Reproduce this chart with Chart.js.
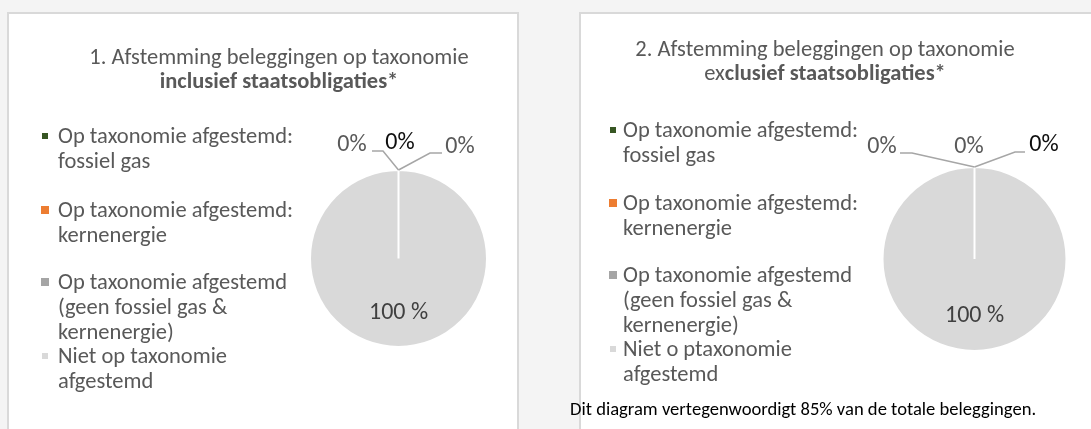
<!DOCTYPE html>
<html>
<head>
<meta charset="utf-8">
<script src="https://cdn.jsdelivr.net/npm/chart.js@4.4.1/dist/chart.umd.min.js"></script>
<style>
  html, body { margin: 0; padding: 0; width: 1091px; height: 429px; overflow: hidden; background: #f4f4f4; }
  body { position: relative; }
  .panel { position: absolute; top: 12px; height: 440px; background: #fff; border: 2px solid #d9d9d9; box-sizing: border-box; }
  #p1 { left: 7px; width: 512px; }
  #p2 { left: 579px; width: 530px; }
  canvas { position: absolute; left: 0; top: 0; }
</style>
</head>
<body>
<div class="panel" id="p1"></div>
<div class="panel" id="p2"></div>
<canvas id="chart1"></canvas>
<canvas id="chart2"></canvas>
<script>
const W = 1091, H = 429;
const FONT = 'Calibri, Carlito, Lato, sans-serif';

// data
const categories1 = [
    'Op taxonomie afgestemd: fossiel gas',
    'Op taxonomie afgestemd: kernenergie',
    'Op taxonomie afgestemd (geen fossiel gas & kernenergie)',
    'Niet op taxonomie afgestemd'
];
const categories2 = [
    'Op taxonomie afgestemd: fossiel gas',
    'Op taxonomie afgestemd: kernenergie',
    'Op taxonomie afgestemd (geen fossiel gas & kernenergie)',
    'Niet o ptaxonomie afgestemd'
];
const values1 = [0, 0, 0, 100];
const values2 = [0, 0, 0, 100];
const valueLabels1 = ['0%', '0%', '0%', '100 %'];
const valueLabels2 = ['0%', '0%', '0%', '100 %'];
const title1 = [[['1. Afstemming beleggingen op taxonomie', false]], [['inclusief staatsobligaties*', true]]];
const title2 = [[['2. Afstemming beleggingen op taxonomie', false]], [['ex', false], ['clusief staatsobligaties*', true]]];
const footnote = 'Dit diagram vertegenwoordigt 85% van de totale beleggingen.';

const colors = ['#375623', '#ed7d31', '#a5a5a5', '#d9d9d9'];

// draws title, legend, labels (chart.js legend can't wrap lines)
const panelText = {
    id: 'panelText',
    afterDraw(chart, args, o) {
        const ctx = chart.ctx;
        ctx.save();
        ctx.textBaseline = 'middle';

        // title
        o.title.forEach((line, li) => {
            let total = 0;
            line.forEach(([t, b]) => {
                ctx.font = (b ? 'bold ' : '') + o.size + 'px ' + FONT;
                total += ctx.measureText(t).width;
            });
            let x = o.titleX - total / 2;
            const y = o.titleY + li * 24;
            ctx.fillStyle = '#595959';
            ctx.textAlign = 'left';
            line.forEach(([t, b]) => {
                ctx.font = (b ? 'bold ' : '') + o.size + 'px ' + FONT;
                ctx.fillText(t, x, y);
                x += ctx.measureText(t).width;
            });
        });

        // legend
        ctx.font = o.size + 'px ' + FONT;
        const labels = chart.data.labels;
        const bg = chart.data.datasets[0].backgroundColor;
        labels.forEach((lab, i) => {
            const words = lab.split(' ');
            const lines = [];
            let cur = '';
            words.forEach(w => {
                const test = cur ? cur + ' ' + w : w;
                if (ctx.measureText(test).width > o.legendWrap && cur) {
                    lines.push(cur);
                    cur = w;
                } else {
                    cur = test;
                }
            });
            lines.push(cur);
            const y0 = o.legendY[i];
            const s = o.markerSize[i];
            ctx.fillStyle = bg[i];
            ctx.fillRect(o.markerX - s / 2, y0 - s / 2 - 1, s, s);
            ctx.fillStyle = '#595959';
            lines.forEach((ln, k) => ctx.fillText(ln, o.legendX, y0 + k * 25));
        });

        // data labels
        ctx.font = '24px ' + FONT;
        const meta = chart.getDatasetMeta(0);
        const vals = chart.data.datasets[0].data;
        const zero = [];
        meta.data.forEach((arc, i) => {
            if (vals[i] === 0) {
                zero.push(i);
            } else {
                const p = arc.getProps(['x', 'y', 'startAngle', 'endAngle', 'outerRadius']);
                const mid = (p.startAngle + p.endAngle) / 2;
                ctx.fillStyle = '#404040';
                ctx.textAlign = 'center';
                ctx.fillText(o.valueLabels[i], p.x + Math.cos(mid) * p.outerRadius * 0.62, p.y + Math.sin(mid) * p.outerRadius * 0.62);
            }
        });
        zero.forEach((i, k) => {
            const p = meta.data[i].getProps(['x', 'y', 'startAngle', 'outerRadius']);
            const ax = p.x + Math.cos(p.startAngle) * p.outerRadius;
            const ay = p.y + Math.sin(p.startAngle) * p.outerRadius;
            const L = o.zeroPos[k];
            if (L.path.length) {
                ctx.strokeStyle = '#a6a6a6';
                ctx.lineWidth = 1.5;
                ctx.beginPath();
                ctx.moveTo(ax, ay);
                L.path.forEach(([dx, dy]) => ctx.lineTo(ax + dx, ay + dy));
                ctx.stroke();
            }
            ctx.fillStyle = L.color;
            ctx.textAlign = 'center';
            ctx.fillText(o.valueLabels[i], ax + L.dx, ay + L.dy);
        });

        if (o.footnote) {
            ctx.font = '18.6px ' + FONT;
            ctx.fillStyle = '#000';
            ctx.textAlign = 'left';
            ctx.fillText(o.footnote, 570, 410);
        }
        ctx.restore();
    }
};

function makePie(id, labels, values, cx, cy, r, text) {
    const canvas = document.getElementById(id);
    canvas.width = W;
    canvas.height = H;
    canvas.style.width = W + 'px';
    canvas.style.height = H + 'px';
    return new Chart(canvas, {
        type: 'pie',
        data: {
            labels: labels,
            datasets: [{
                data: values,
                backgroundColor: colors,
                borderColor: '#ffffff',
                borderWidth: 2
            }]
        },
        options: {
            responsive: false,
            animation: false,
            devicePixelRatio: 1,
            radius: r,
            layout: { padding: { left: cx - r, right: W - cx - r, top: cy - r, bottom: H - cy - r } },
            plugins: {
                legend: { display: false },
                tooltip: { enabled: false },
                panelText: text
            }
        },
        plugins: [panelText]
    });
}

makePie('chart1', categories1, values1, 398.5, 258.5, 88.5, {
    title: title1, titleX: 279, titleY: 58, size: 22.5,
    legendX: 58, markerX: 45, legendWrap: 240,
    legendY: [137, 211, 283, 357], markerSize: [6, 8, 8, 6],
    valueLabels: valueLabels1,
    zeroPos: [
        { dx: -46.5, dy: -25, path: [[-15.5, -19], [-26.5, -19]], color: '#595959' },
        { dx: 1.5, dy: -27, path: [], color: '#0d0d0d' },
        { dx: 61.5, dy: -23, path: [[31.5, -17], [43.5, -17]], color: '#595959' }
    ]
});

makePie('chart2', categories2, values2, 974.5, 259, 92, {
    title: title2, titleX: 825, titleY: 50, size: 22.5,
    legendX: 623, markerX: 613, legendWrap: 240,
    legendY: [131, 204, 276, 350], markerSize: [6, 8, 8, 6],
    valueLabels: valueLabels2,
    zeroPos: [
        { dx: -92.5, dy: -20, path: [[-62.5, -14], [-74.5, -14]], color: '#595959' },
        { dx: -5.5, dy: -20, path: [], color: '#595959' },
        { dx: 69.5, dy: -22, path: [[40.5, -15], [50.5, -15]], color: '#0d0d0d' }
    ],
    footnote: footnote
});
</script>
</body>
</html>
